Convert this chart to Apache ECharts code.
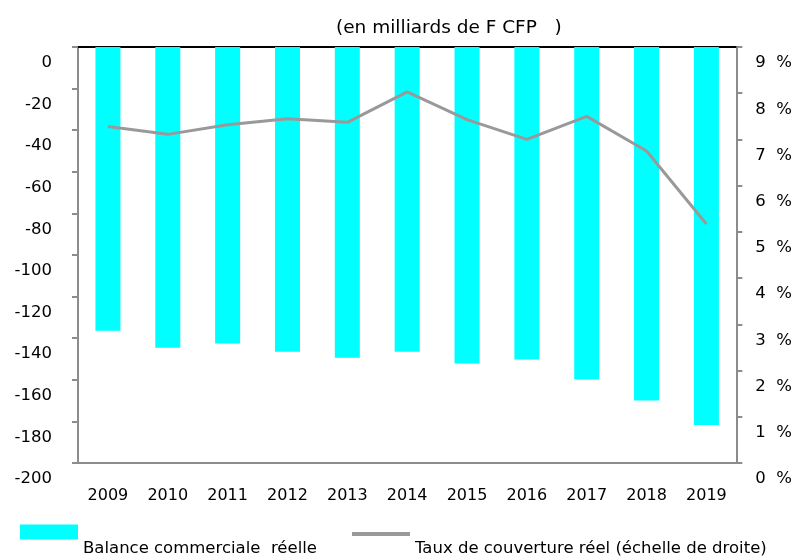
<!DOCTYPE html>
<html>
<head>
<meta charset="utf-8">
<script src="https://cdn.jsdelivr.net/npm/echarts@6/dist/echarts.min.js"></script>
<style>
  html, body { margin: 0; padding: 0; background: #fff; }
  #chart { width: 795px; height: 557px; }
</style>
</head>
<body>
<div id="chart"></div>
<script>
// years on the category axis
const years = ["2009", "2010", "2011", "2012", "2013", "2014", "2015", "2016", "2017", "2018", "2019"];
// balance commerciale, milliards de F CFP
const balance = [-136.4, -144.6, -142.6, -146.5, -149.4, -146.5, -152.2, -150.3, -159.9, -170.0, -181.7];
// taux de couverture, %
const couverture = [7.28, 7.11, 7.32, 7.45, 7.37, 8.03, 7.43, 7.0, 7.5, 6.75, 5.17];

const font = "DejaVu Sans";
const grey = "#8c8c8c";

const chart = echarts.init(document.getElementById("chart"));

// legend text sits below its key, as in the original
const lowered = (txt) => "\n" + txt;

const option = {
  animation: false,
  title: {
    text: "(en milliards de F CFP   )",
    left: 331,
    top: 14,
    textStyle: { fontFamily: font, fontSize: 18.5, fontWeight: "normal", color: "#000" },
  },
  grid: { left: 78, right: 57, top: 47, bottom: 94 },
  legend: [
    {
      left: 15,
      top: 493,
      itemWidth: 58,
      itemHeight: 15,
      data: [{ name: "Balance commerciale  réelle", icon: "rect" }],
      formatter: lowered,
      textStyle: { fontFamily: font, fontSize: 16.5, color: "#000", lineHeight: 34 },
    },
    {
      left: 347,
      top: 499,
      itemWidth: 58,
      itemHeight: 4,
      data: [{ name: "Taux de couverture réel (échelle de droite)", icon: "rect" }],
      formatter: lowered,
      textStyle: { fontFamily: font, fontSize: 16.5, color: "#000", lineHeight: 30 },
    },
  ],
  xAxis: [
    {
      type: "category",
      data: years,
      position: "bottom",
      axisLine: { onZero: false, lineStyle: { color: grey, width: 2 } },
      axisTick: { show: false },
      axisLabel: { fontFamily: font, fontSize: 16, color: "#000", margin: 25 },
    },
    {
      type: "category",
      data: years,
      position: "top",
      axisLine: { onZero: false, lineStyle: { color: "#000", width: 2 } },
      axisTick: { inside: true, length: 6, lineStyle: { color: "#000", width: 2 } },
      axisLabel: { show: false },
    },
  ],
  yAxis: [
    {
      type: "value",
      min: -200,
      max: 0,
      interval: 20,
      axisLine: { show: true, lineStyle: { color: grey, width: 2 } },
      axisTick: { show: true, length: 6, lineStyle: { color: grey, width: 2 } },
      splitLine: { show: false },
      axisLabel: {
        fontFamily: font,
        fontSize: 16.5,
        color: "#000",
        margin: 26,
        verticalAlign: "top",
        lineHeight: 32,
        showMinLabel: true,
        showMaxLabel: true,
      },
    },
    {
      type: "value",
      min: 0,
      max: 9,
      interval: 1,
      position: "right",
      axisLine: { show: true, lineStyle: { color: grey, width: 2 } },
      axisTick: { show: true, length: 6, lineStyle: { color: grey, width: 2 } },
      splitLine: { show: false },
      axisLabel: {
        fontFamily: font,
        fontSize: 16.5,
        color: "#000",
        margin: 19,
        verticalAlign: "top",
        lineHeight: 32,
        showMinLabel: true,
        showMaxLabel: true,
        formatter: "{value}  %",
      },
    },
  ],
  series: [
    {
      name: "Balance commerciale  réelle",
      type: "bar",
      xAxisIndex: 0,
      yAxisIndex: 0,
      barWidth: 25,
      itemStyle: { color: "#00ffff" },
      data: balance,
    },
    {
      name: "Taux de couverture réel (échelle de droite)",
      type: "line",
      xAxisIndex: 0,
      yAxisIndex: 1,
      symbol: "none",
      lineStyle: { color: "#999999", width: 3 },
      itemStyle: { color: "#999999" },
      data: couverture,
    },
  ],
};

chart.setOption(option);
</script>
</body>
</html>
